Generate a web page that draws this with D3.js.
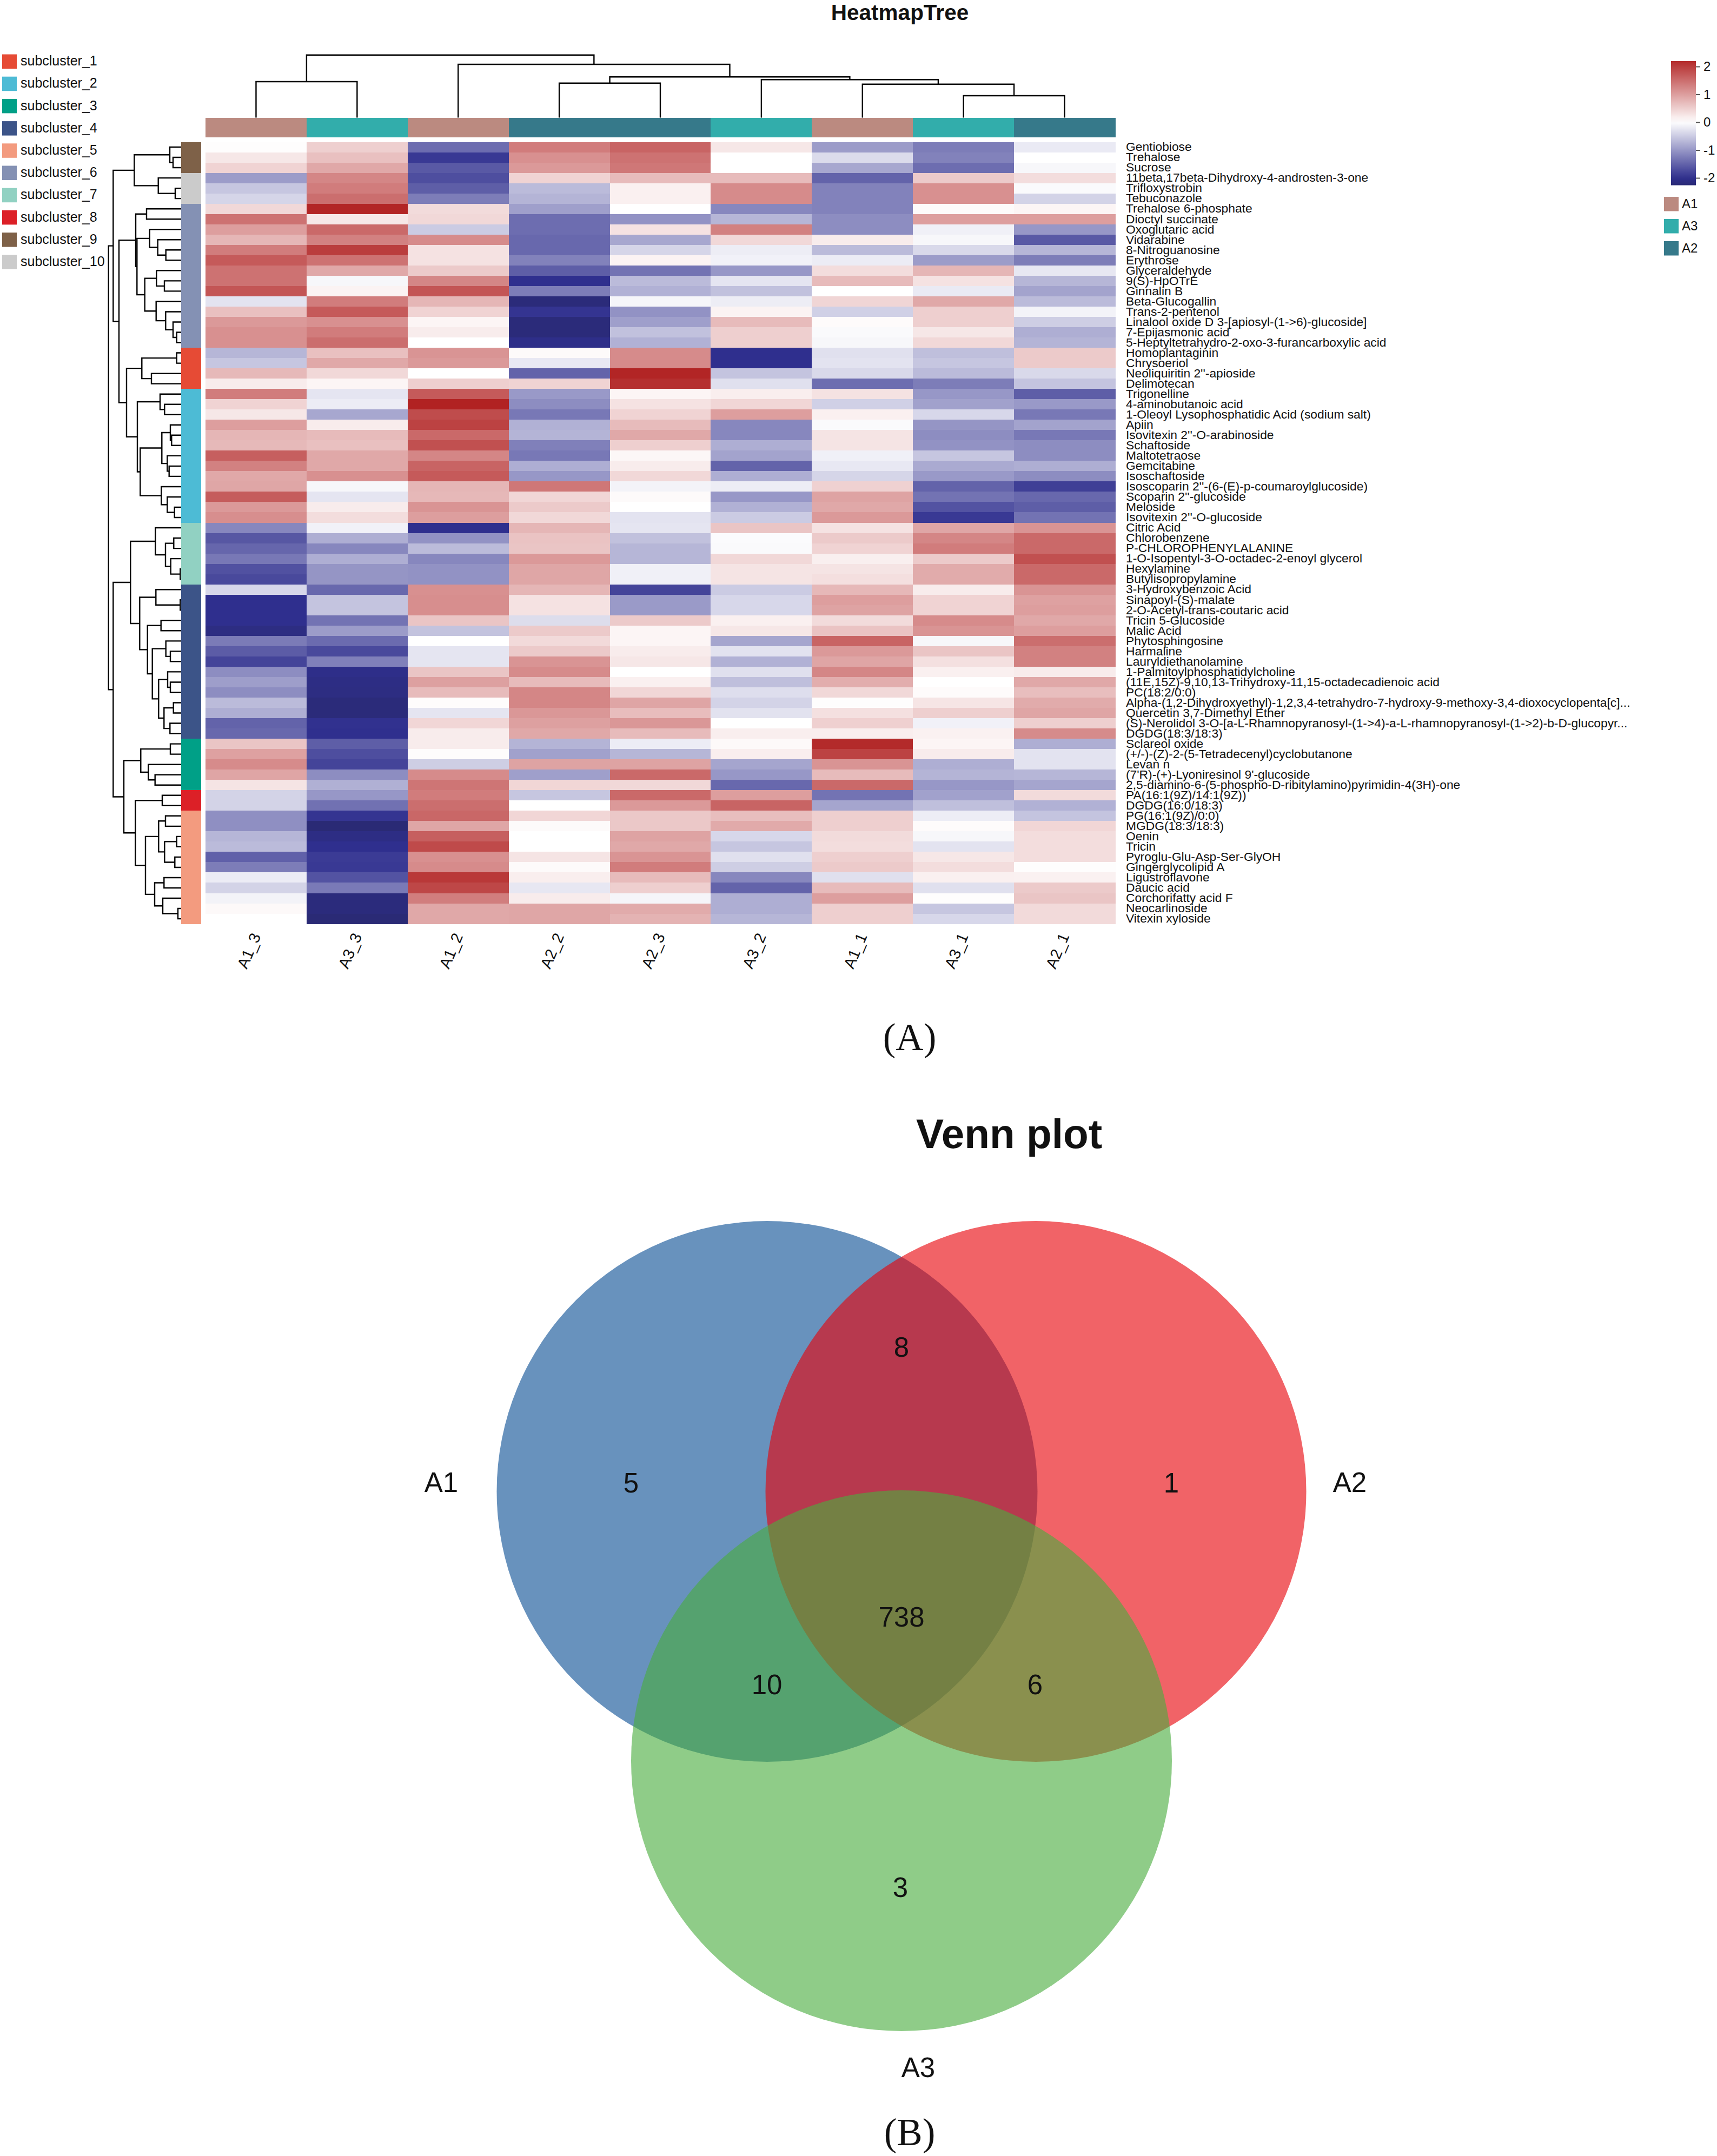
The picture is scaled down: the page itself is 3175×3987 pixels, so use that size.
<!DOCTYPE html>
<html><head><meta charset="utf-8">
<script src="https://cdnjs.cloudflare.com/ajax/libs/d3/7.8.5/d3.min.js"></script>
<style>html,body{margin:0;padding:0;background:#fff}svg{display:block}text{font-family:"Liberation Sans",Arial,sans-serif;fill:#111}</style>
</head><body><svg id="c" width="3175" height="3987" viewBox="0 0 3175 3987"></svg>
<script>
const sampleNames=["A1_3","A3_3","A1_2","A2_2","A2_3","A3_2","A1_1","A3_1","A2_1"];
const sampleGroups=["A1","A3","A1","A2","A2","A3","A1","A3","A2"];
const groupNames=["A1","A3","A2"];
const groupColors=["#bb8a80","#32adab","#36798a"];
const subclusterNames=["subcluster_1","subcluster_2","subcluster_3","subcluster_4","subcluster_5","subcluster_6","subcluster_7","subcluster_8","subcluster_9","subcluster_10"];
const subclusterColors=["#e64b35","#4dbbd5","#00a087","#3c5488","#f39b7f","#8491b4","#91d1c2","#dc2027","#7e6148","#cbcbcb"];
const rowLabels=["Gentiobiose","Trehalose","Sucrose","11beta,17beta-Dihydroxy-4-androsten-3-one","Trifloxystrobin","Tebuconazole","Trehalose 6-phosphate","Dioctyl succinate","Oxoglutaric acid","Vidarabine","8-Nitroguanosine","Erythrose","Glyceraldehyde","9(S)-HpOTrE","Ginnalin B","Beta-Glucogallin","Trans-2-pentenol","Linalool oxide D 3-[apiosyl-(1->6)-glucoside]","7-Epijasmonic acid","5-Heptyltetrahydro-2-oxo-3-furancarboxylic acid","Homoplantaginin","Chrysoeriol","Neoliquiritin 2''-apioside","Delimotecan","Trigonelline","4-aminobutanoic acid","1-Oleoyl Lysophosphatidic Acid (sodium salt)","Apiin","Isovitexin 2''-O-arabinoside","Schaftoside","Maltotetraose","Gemcitabine","Isoschaftoside","Isoscoparin 2''-(6-(E)-p-coumaroylglucoside)","Scoparin 2''-glucoside","Meloside","Isovitexin 2''-O-glucoside","Citric Acid","Chlorobenzene","P-CHLOROPHENYLALANINE","1-O-Isopentyl-3-O-octadec-2-enoyl glycerol","Hexylamine","Butylisopropylamine","3-Hydroxybenzoic Acid","Sinapoyl-(S)-malate","2-O-Acetyl-trans-coutaric acid","Tricin 5-Glucoside","Malic Acid","Phytosphingosine","Harmaline","Lauryldiethanolamine","1-Palmitoylphosphatidylcholine","(11E,15Z)-9,10,13-Trihydroxy-11,15-octadecadienoic acid","PC(18:2/0:0)","Alpha-(1,2-Dihydroxyethyl)-1,2,3,4-tetrahydro-7-hydroxy-9-methoxy-3,4-dioxocyclopenta[c]...","Quercetin 3,7-Dimethyl Ether","(S)-Nerolidol 3-O-[a-L-Rhamnopyranosyl-(1->4)-a-L-rhamnopyranosyl-(1->2)-b-D-glucopyr...","DGDG(18:3/18:3)","Sclareol oxide","(+/-)-(Z)-2-(5-Tetradecenyl)cyclobutanone","Levan n","(7'R)-(+)-Lyoniresinol 9'-glucoside","2,5-diamino-6-(5-phospho-D-ribitylamino)pyrimidin-4(3H)-one","PA(16:1(9Z)/14:1(9Z))","DGDG(16:0/18:3)","PG(16:1(9Z)/0:0)","MGDG(18:3/18:3)","Oenin","Tricin","Pyroglu-Glu-Asp-Ser-GlyOH","Gingerglycolipid A","Ligustroflavone","Daucic acid","Corchorifatty acid F","Neocarlinoside","Vitexin xyloside"];

const rowsSubcluster9=[
[.02,.5,-1.4,1.35,1.6,.25,-.95,-1.25,-.2],
[.25,.65,-1.9,1.15,1.45,0,-.35,-1.2,0],
[.45,.9,-1.6,1.05,1.4,0,-.85,-1.4,-.08]];
const rowsSubcluster10=[
[-.95,1.25,-1.7,.45,.7,.7,-1.5,.55,.35],
[-.55,1.35,-1.55,-.65,.15,1.2,-1.2,1.15,-.05],
[-.4,1.5,-1.25,-.72,.15,1.2,-1.2,1.15,-.42]];
const rowsSubcluster6=[
[.4,2.25,.37,-.92,0,-1.15,-1.2,.05,.1],
[1.45,.25,.4,-1.4,-1.05,-.7,-1.1,1,1],
[1,1.55,-.5,-1.4,.3,1.3,-1.1,-.14,-1],
[.75,1.3,1.2,-1.45,-.85,.4,.2,-.08,-1.6],
[1.35,2,.3,-1.45,-.4,-.17,-.65,-.37,-.7],
[1.7,1.45,.3,-1.2,.12,-.13,-.18,-.95,-1.25],
[1.45,.9,.55,-1.55,-1.35,-1,.35,.75,-.23],
[1.45,-.08,1.25,-2,-.65,-.25,.7,.3,-.7],
[1.75,.12,1.75,-1.25,-.75,-.6,0,-.2,-.88],
[-.27,1.35,.75,-2.2,-.1,-.17,.43,.9,-.65],
[.65,1.7,.45,-1.95,-1.05,.12,-.45,.5,-.12],
[1.05,1.15,.1,-2.2,-.92,.7,.04,.5,-.47],
[1.15,1.35,.2,-2.2,-.6,.5,-.05,.25,-.78],
[1.15,1.5,0,-2.05,-.75,.5,-.08,.4,-.72]];
const rowsSubcluster1=[
[-.7,.65,1.1,.05,1.2,-2,-.3,-.62,.55],
[-.55,.9,1.05,-.22,1.2,-2,-.27,-.55,.55],
[.72,.4,0,-1.5,2.25,-.57,-.37,-.65,-.37],
[.2,.1,.5,.45,2.15,-.3,-1.4,-1.25,-.57]];
const rowsSubcluster2=[
[1.35,-.25,1.7,-.98,.1,.18,.3,-1,-1.55],
[.45,-.18,2.28,-1.1,.3,.42,-.45,-.9,-.98],
[.25,-.85,1.85,-1.3,.45,1,.15,-.38,-1.3],
[1,.2,1.95,-.75,.7,-1.15,-.05,-1.02,-.88],
[.75,.7,1.55,-.72,.9,-1.15,.28,-1.1,-1.3],
[.72,.65,1.8,-1.22,.5,-.78,.28,-1.05,-1.1],
[1.65,.9,1.25,-1.3,.08,-.88,-.14,-.55,-1.1],
[1.3,.9,1.6,-.78,.2,-1.5,-.22,-.82,-.78],
[.9,1.15,1.7,-1,.4,-.78,-.4,-.98,-1.1],
[.92,-.08,.75,1.4,-.12,-.17,.47,-1.5,-1.85],
[1.68,-.25,.73,.42,.05,-1,.95,-1.35,-1.45],
[1.05,.2,1.1,.55,0,-.75,.9,-1.65,-1.55],
[1.17,.35,1,.4,-.27,-.5,1.05,-1.9,-1.35]];
const rowsSubcluster7=[
[-1.15,-.13,-2,.75,-.25,.6,.3,.92,1.1],
[-1.62,-.78,-1.05,.62,-.6,-.04,.55,1.25,1.55],
[-1.47,-1.15,-.65,.6,-.7,-.05,.45,1.35,1.55],
[-1.3,-.78,-1.15,1.05,-.7,.4,.17,.55,1.8],
[-1.67,-1.02,-1.05,.92,-.14,.28,.28,.87,1.55],
[-1.75,-1.02,-1.05,.92,-.14,.28,.33,.87,1.55]];
const rowsSubcluster4=[
[-.38,-1.45,1.15,.75,-1.8,-.5,.73,.2,1.1],
[-2,-.57,1.17,.3,-.97,-.38,1,.45,.97],
[-2,-.57,1.17,.3,-.97,-.38,.95,.45,1],
[-2,-1.35,.6,-.33,.55,.15,.37,1.2,.9],
[-2.12,-.95,-.58,.55,.1,.25,.62,1.1,1],
[-1.27,-1.42,0,.38,.1,-.87,1.6,-.08,1.5],
[-1.57,-1.75,-.25,.55,.2,-.28,1.05,.6,1.3],
[-1.8,-1.22,-.25,1.1,.25,-.75,.93,.32,1.3],
[-1.1,-2.05,.6,1.2,0,-.3,1.25,.15,.2],
[-.93,-2.1,.98,.7,.15,-.62,.85,0,.9],
[-1.1,-2.12,.7,1.25,.42,-.32,.4,.04,.67],
[-.65,-2.2,.03,1.25,.93,-.42,.02,.27,.87],
[-.78,-2.2,-.25,1.07,.68,-.28,.32,.5,.93],
[-1.5,-1.98,.42,.98,1.07,0,.48,-.13,.5],
[-1.45,-2,.2,.9,.7,.18,.18,.14,1.2]];
const rowsSubcluster3=[
[.6,-1.55,.2,-.72,-.18,.06,2.2,.1,-.78],
[.97,-1.7,.03,-.9,-.7,.18,1.95,.2,-.27],
[1.2,-1.8,-.47,.95,.95,-.87,1.1,-.78,-.27],
[.93,-1.1,1.2,-.92,1.55,-1,.7,-.72,-.7],
[.28,-.76,1.42,.42,.4,-1.45,1.55,-1,-.87]];
const rowsSubcluster8=[
[-.42,-1,1.35,-.55,1.55,1,-1.35,-.9,.37],
[-.42,-1.37,1.5,0,1.05,1.6,-.87,-.62,-.75]];
const rowsSubcluster5=[
[-1.08,-1.95,1.57,.42,.57,.67,.5,-.17,-.57],
[-1.08,-2.25,.92,.05,.57,.88,.5,.04,.42],
[-.7,-2.1,1.65,0,.95,-.38,.37,-.08,.35],
[-.65,-2,1.87,0,.9,-.55,.35,-.27,.35],
[-1.53,-1.88,1.15,.28,1.1,-.3,.5,.25,.35],
[-1.25,-1.9,1.2,.05,1.35,-.47,.55,.35,.02],
[-.18,-1.65,2.05,.18,.7,-1.15,-.3,.15,.14],
[-.42,-1.28,1.9,-.23,.5,-1.5,.7,-.3,.55],
[-.12,-2.18,1.33,.2,-.1,-.78,1,.02,.6],
[.06,-2.18,.9,.92,.87,-.78,.5,-.55,.38],
[0,-2.25,.9,.92,.78,-.7,.5,-.38,.38]];
const rowBlocks=[[9,rowsSubcluster9],[10,rowsSubcluster10],[6,rowsSubcluster6],[1,rowsSubcluster1],[2,rowsSubcluster2],[7,rowsSubcluster7],[4,rowsSubcluster4],[3,rowsSubcluster3],[8,rowsSubcluster8],[5,rowsSubcluster5]];

// Merge trees: [merge height, child, child]; a bare number is a leaf index.
const colTree=[11.58,[6.65,0,1],[9.85,2,[7.52,[6.38,3,4],[7.02,5,[6.18,6,[4.05,7,8]]]]]];
const rowTree=[13.43,
 [12.57,
  [8.67,[2.1,0,[1.5,1,2]],[4.23,3,[1.1,4,5]]],
  [11.5,
   [8.4,[6.4,6,7],[8.17,[5.83,8,[4.33,9,[2.83,10,11]]],[6.73,[4.57,12,[3.1,13,14]],[4.63,15,[2.87,16,[1.5,17,[.83,18,19]]]]]]],
   [10.1,
    [7.27,[.83,20,21],[5.5,22,23]],
    [8.1,[3.9,24,[3.07,25,26]],[7.57,[3.57,[2,27,[1.77,28,29]],[2.57,30,[2.23,31,32]]],[3.67,33,[2.57,34,[1.23,35,36]]]]]]]],
 [12.57,
  [9.37,
   [4.77,37,[2.9,[1.37,38,39],[1.93,40,[.17,41,42]]]],
   [7.67,[4.67,43,[.17,44,45]],[6.23,[3.73,46,47],[5.33,[2.83,48,[2,49,50]],[4.17,[2.5,51,[2,52,53]],[3.17,[1.43,54,55],[2.07,56,57]]]]]]],
  [10.6,
   [7.47,[2,58,59],[6.07,60,[4.83,61,62]]],
   [8.47,[3.5,63,64],[6.6,[4.17,[2.9,65,66],[3.07,[.83,67,68],[1.17,69,70]]],[4.9,[3.17,71,72],[3.4,73,[.6,74,75]]]]]]]];

const vennSets=["A1","A2","A3"];
const vennCounts=[5,1,3,8,10,6,738];
const vennColors=["#0b4f94","#e8030a","#4aad3f"];
const colorbarTicks=[2,1,0,-1,-2];

const rowGroupOf=rowBlocks.flatMap(([g,r])=>r.map(()=>g));
const values=rowBlocks.flatMap(([,r])=>r);
const svg=d3.select("#c");
const hm={x0:380,x1:2062,y0:262.5,y1:1708.6};
const x=d3.scaleBand().domain(d3.range(sampleNames.length)).range([hm.x0,hm.x1]);
const y=d3.scaleBand().domain(d3.range(values.length)).range([hm.y0,hm.y1]);
const color=d3.scaleLinear().domain([-2.25,-2,0,2.3]).range(["#2a2a75","#2f2f8e","#ffffff","#b02020"]).clamp(true);

svg.append("rect").attr("width",3175).attr("height",3987).attr("fill","#fff");
svg.append("text").attr("x",1664).attr("y",36.5).attr("text-anchor","middle").attr("font-weight","bold").attr("font-size",40.5).text("HeatmapTree");

// cells
svg.append("g").attr("shape-rendering","crispEdges").selectAll("g").data(values).join("g")
 .each(function(r,i){d3.select(this).selectAll("rect").data(r).join("rect")
   .attr("x",(d,j)=>x(j)).attr("y",y(i)).attr("width",x.bandwidth()+.5).attr("height",y.bandwidth()+.5).attr("fill",d=>color(d));});

// sample annotation
svg.append("g").attr("shape-rendering","crispEdges").selectAll("rect").data(sampleGroups).join("rect")
 .attr("x",(d,i)=>x(i)).attr("y",217.5).attr("width",x.bandwidth()+.5).attr("height",36.5)
 .attr("fill",d=>groupColors[groupNames.indexOf(d)]);

// subcluster annotation
svg.append("g").attr("shape-rendering","crispEdges").selectAll("rect").data(rowGroupOf).join("rect")
 .attr("x",335).attr("y",(d,i)=>y(i)).attr("width",36.5).attr("height",y.bandwidth()+.5)
 .attr("fill",d=>subclusterColors[d-1]);

// dendrograms
function drawTree(tree,band,hScale,orient){
 const root=d3.hierarchy(tree,d=>Array.isArray(d)?d.slice(1):null);
 root.eachAfter(n=>{
  if(n.children){n.pos=d3.mean(n.children,c=>c.pos);n.h=n.data[0];}
  else{n.pos=band(n.data)+band.bandwidth()/2;n.h=0;}
 });
 const line=d3.line();
 const pt=(p,h)=>orient==="top"?[p,hScale(h)]:[hScale(h),p];
 svg.append("g").attr("fill","none").attr("stroke","#000").attr("stroke-width",2.4)
  .selectAll("path").data(root.descendants().filter(n=>n.children)).join("path")
  .attr("d",n=>{const [a,b]=n.children;return line([pt(a.pos,a.h),pt(a.pos,n.h),pt(b.pos,n.h),pt(b.pos,b.h)]);});
}
drawTree(colTree,x,d3.scaleLinear().domain([0,11.58]).range([217.5,101.7]),"top");
drawTree(rowTree,y,d3.scaleLinear().domain([0,13.43]).range([335,200.7]),"left");

// row labels
const rowAxis=d3.axisRight(d3.scaleBand().domain(rowLabels).range([hm.y0,hm.y1])).tickSize(0).tickPadding(20);
const ra=svg.append("g").attr("transform",`translate(${hm.x1},0)`).call(rowAxis);
ra.select(".domain").remove();
ra.selectAll("text").attr("font-size",22.8).attr("fill","#111");

// column labels
const colAxis=d3.axisBottom(d3.scaleBand().domain(sampleNames).range([hm.x0,hm.x1])).tickSize(0);
const ca=svg.append("g").attr("transform","translate(0,1727)").call(colAxis);
ca.select(".domain").remove();
ca.selectAll("text").attr("font-size",29).attr("fill","#111")
 .attr("text-anchor","end").attr("y",0).attr("dy",".35em").attr("transform","rotate(-67)");

// subcluster legend
const sl=d3.scaleBand().domain(subclusterNames).range([100.5,100.5+41.2*10]);
const slg=svg.append("g").selectAll("g").data(subclusterNames).join("g").attr("transform",d=>`translate(4,${sl(d)})`);
slg.append("rect").attr("width",27).attr("height",26.5).attr("fill",(d,i)=>subclusterColors[i]);
slg.append("text").attr("x",34).attr("y",12).attr("dy",".35em").attr("font-size",25).text(d=>d);

// colour bar
const defs=svg.append("defs");
const cbScale=d3.scaleLinear().domain([-2,2]).range([329,123]);
const cbTop=113,cbBot=342.6;
const grad=defs.append("linearGradient").attr("id","cb").attr("x1",0).attr("x2",0).attr("y1",0).attr("y2",1);
d3.range(0,1.0001,.05).forEach(t=>grad.append("stop").attr("offset",t).attr("stop-color",color(cbScale.invert(cbTop+t*(cbBot-cbTop)))));
svg.append("rect").attr("x",3090).attr("y",cbTop).attr("width",46).attr("height",cbBot-cbTop).attr("fill","url(#cb)");
const cba=svg.append("g").attr("transform","translate(3136,0)").call(d3.axisRight(cbScale).tickValues(colorbarTicks).tickFormat(String).tickSize(8).tickPadding(6));
cba.select(".domain").remove();
cba.selectAll("line").attr("stroke","#555").attr("stroke-width",2);
cba.selectAll("text").attr("font-size",24).attr("fill","#111");

// group legend
const gl=svg.append("g").selectAll("g").data(groupNames).join("g").attr("transform",(d,i)=>`translate(3077,${364+41*i})`);
gl.append("rect").attr("width",27).attr("height",26.5).attr("fill",(d,i)=>groupColors[i]);
gl.append("text").attr("x",33).attr("y",13).attr("dy",".35em").attr("font-size",24).text(d=>d);

// captions
const cap=(t,yy)=>svg.append("text").attr("x",1682).attr("y",yy).attr("text-anchor","middle").style("font-family",'"Liberation Serif","Times New Roman",serif').attr("font-size",71).text(t);
cap("(A)",1942);cap("(B)",3967);

// venn
const vc={x:1667,dx:248.5,r:500};
const vennCentres=[[vc.x-vc.dx,2758],[vc.x+vc.dx,2758],[vc.x,3256]];
svg.append("text").attr("x",1866).attr("y",2123).attr("text-anchor","middle").attr("font-weight","bold").attr("font-size",76.5).text("Venn plot");
svg.append("g").selectAll("circle").data(vennSets).join("circle")
 .attr("cx",(d,i)=>vennCentres[i][0]).attr("cy",(d,i)=>vennCentres[i][1]).attr("r",vc.r)
 .attr("fill",(d,i)=>vennColors[i]).attr("fill-opacity",.62);
const vennPos=[[1167,2742],[2166,2742],[1665,3490],[1667,2491],[1418,3115],[1914,3115],[1667,2990]];
svg.append("g").selectAll("text").data(vennCounts).join("text")
 .attr("x",(d,i)=>vennPos[i][0]).attr("y",(d,i)=>vennPos[i][1]).attr("dy",".35em").attr("text-anchor","middle").attr("font-size",51).text(d=>d);
const vennNamePos=[[816,2741],[2496,2741],[1698,3823]];
svg.append("g").selectAll("text").data(vennSets).join("text")
 .attr("x",(d,i)=>vennNamePos[i][0]).attr("y",(d,i)=>vennNamePos[i][1]).attr("dy",".35em").attr("text-anchor","middle").attr("font-size",51).text(d=>d);
</script></body></html>
